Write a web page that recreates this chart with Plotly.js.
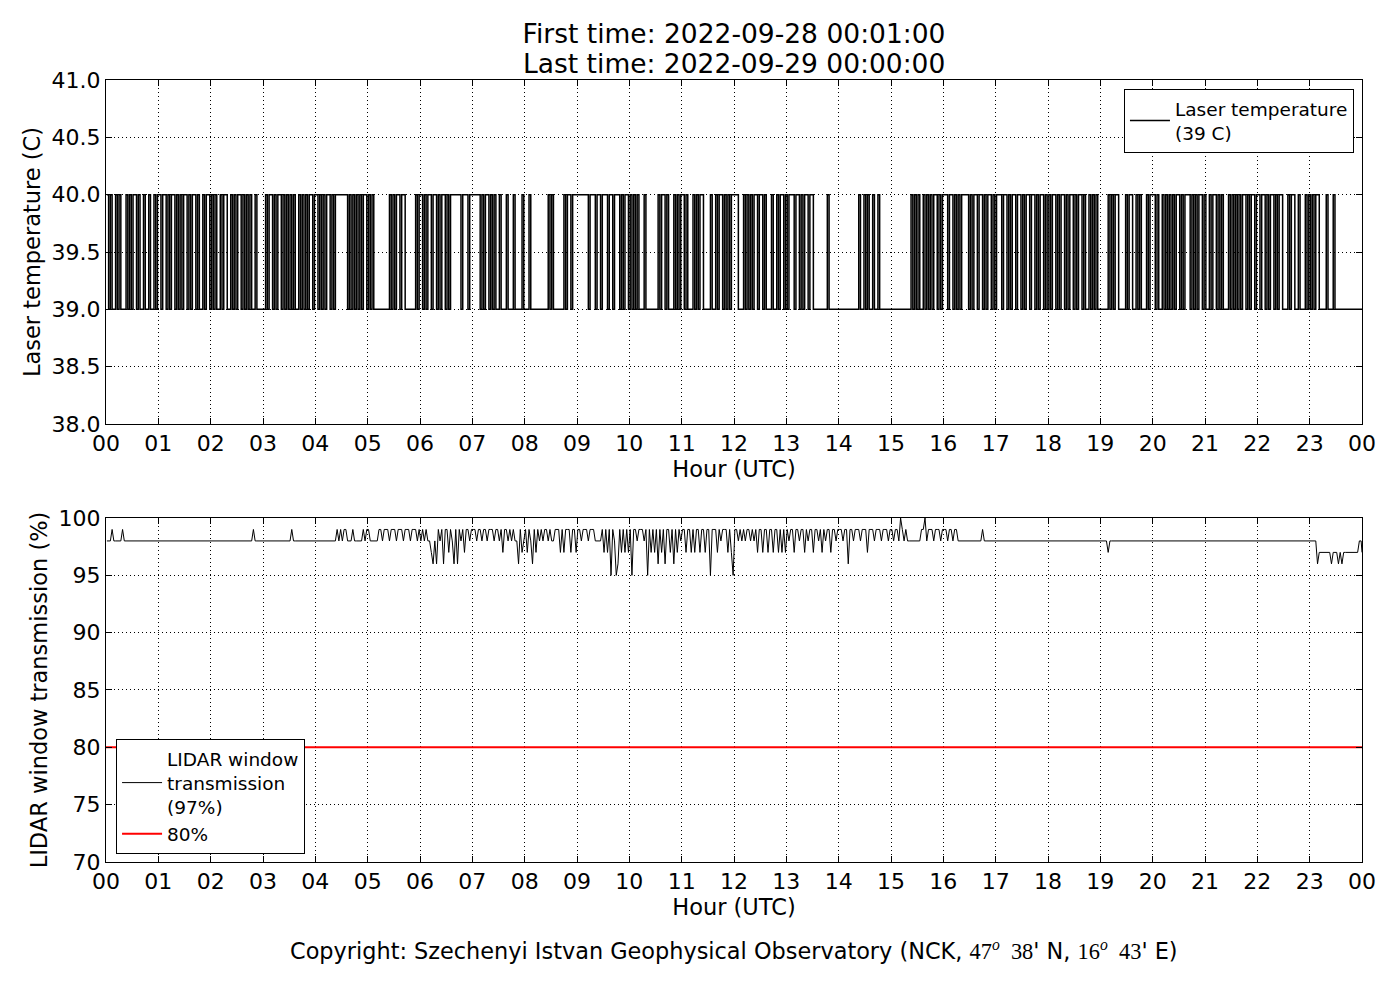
<!DOCTYPE html>
<html>
<head>
<meta charset="utf-8">
<script src="https://cdn.plot.ly/plotly-3.0.1.min.js"></script>
<style>
  body { margin: 0; background: #fff; }
  #plot { width: 1400px; height: 1000px; }
</style>
</head>
<body>
<div id="plot"></div>
<script>
// hour tick labels for both panels
const hourLabels = ['00','01','02','03','04','05','06','07','08','09','10','11',
  '12','13','14','15','16','17','18','19','20','21','22','23','00']

// laser temperature, one string per hour, one char per 2 minutes: 1 = 40 C, 0 = 39 C
const laserHours = [
  '101001010001010110100100100101',
  '101101011010101101011010010110',
  '101001011001010110101010010000',
  '010110101101010101001010101101',
  '101010110101111111010101010110',
  '101000000000101011011000000101',
  '101011011010110101111110111011',
  '111101011010100100010001000010',
  '001000000000010100000010110111',
  '111111011101101110110111010110',
  '101010001000000010110100010101',
  '101000101011000010010110101011',
  '110001010101101101000100101101',
  '011101101011011000000001000000',
  '000000000001001010010010000000',
  '000000000001010100101010110101',
  '110110101011110101101101011010',
  '111011010110110101101101011010',
  '101101011010110101101001010100',
  '000010101100001011001010001011',
  '101001010101011010111010101101',
  '001011010100010101010110101101',
  '101101011010110001011001000101',
  '010110000100010000000000000000'
]
const laserLast = 39

// LIDAR window transmission, one string per hour, one char per 2 minutes:
// digit d = 90+d %, '0' = 100 %
const lidarHours = [
  '888988888988888888888888888888',
  '888888888888888888888888888888',
  '888888888888888888888888988888',
  '888888888888888898888888888888',
  '888888888888989899888988888989',
  '988888998999899989998999899989',
  '898988768698969979869698979989',
  '998998998999899897998989886978',
  '979869798989989889997979997997',
  '998999899988889797959856979797',
  '959989998959797969796997969798',
  '997997979979979959997989997975',
  '998989899898979979979979979797',
  '989979989979899799897989979989',
  '998996998999899979998999899989',
  '989980989888888889908999899989',
  '998998998888888888888898888888',
  '888888888888888888888888888888',
  '888888888888888888888888888888',
  '888878888888888888888888888888',
  '888888888888888888888888888888',
  '888888888888888888888888888888',
  '888888888888888888888888888888',
  '888867777777677767677777777788'
]
const lidarLast = 97
const limit = 80

function decode (hours, toValue, last) {
  const x = [], y = []
  hours.forEach((s, h) => {
    const step = 1 / s.length
    for (let i = 0; i < s.length; i++) {
      x.push(h + (i + 0.5) * step)
      y.push(toValue(s[i]))
    }
  })
  x.push(24); y.push(last)
  return { x, y }
}

const laser = decode(laserHours, c => c === '1' ? 40 : 39, laserLast)
const lidar = decode(lidarHours, c => c === '0' ? 100 : 90 + Number(c), lidarLast)
const hourTicks = hourLabels.map((_, i) => i)

const data = [
  {
    x: laser.x, y: laser.y, type: 'scatter', mode: 'lines',
    line: { color: 'black', width: 1.5, shape: 'hv' },
    name: 'Laser temperature<br>(' + laserLast + ' C)',
    xaxis: 'x', yaxis: 'y', legend: 'legend'
  },
  {
    x: lidar.x, y: lidar.y, type: 'scatter', mode: 'lines',
    line: { color: 'black', width: 1 },
    name: 'LIDAR window<br>transmission<br>(' + lidarLast + '%)',
    xaxis: 'x2', yaxis: 'y2', legend: 'legend2'
  },
  {
    x: [0, 24], y: [limit, limit], type: 'scatter', mode: 'lines',
    line: { color: 'red', width: 2 },
    name: limit + '%',
    xaxis: 'x2', yaxis: 'y2', legend: 'legend2'
  }
]

const font = { family: 'DejaVu Sans, sans-serif', color: 'black' }
const gridDash = '1px,3px'

function xAxis (anchor) {
  return {
    anchor: anchor, range: [0, 24],
    tickvals: hourTicks, ticktext: hourLabels,
    ticks: 'inside', ticklen: 6, tickcolor: 'black',
    showline: true, linecolor: 'black', linewidth: 1, mirror: 'allticks',
    showgrid: true, gridcolor: 'black', griddash: gridDash, gridwidth: 1,
    zeroline: false, automargin: false,
    tickfont: { ...font, size: 22 },
    title: { text: 'Hour (UTC)', font: { ...font, size: 22.5 }, standoff: 0 }
  }
}

function yAxis (anchor, domain, range, dtick, fmt, label) {
  return {
    anchor: anchor, domain: domain, range: range, dtick: dtick, tickformat: fmt,
    ticks: 'inside', ticklen: 6, tickcolor: 'black',
    showline: true, linecolor: 'black', linewidth: 1, mirror: 'allticks',
    showgrid: true, gridcolor: 'black', griddash: gridDash, gridwidth: 1,
    zeroline: false, automargin: false,
    tickfont: { ...font, size: 22 },
    title: { text: label, font: { ...font, size: 22.5 }, standoff: 4 }
  }
}

const serif = 'font-family:Liberation Serif'
const copyright = 'Copyright: Szechenyi Istvan Geophysical Observatory (NCK, ' +
  '<span style="' + serif + '">47<sup><i>o</i></sup>  38</span>\' N, ' +
  '<span style="' + serif + '">16<sup><i>o</i></sup>  43</span>\' E)'

const layout = {
  width: 1400, height: 1000,
  margin: { l: 106, r: 38, t: 80, b: 138 },
  paper_bgcolor: 'white', plot_bgcolor: 'white',
  font: font,
  title: {
    text: 'First time: 2022-09-28 00:01:00',
    font: { ...font, size: 26.5 },
    xref: 'paper', x: 0.5, yref: 'container', y: 0.966, yanchor: 'middle'
  },
  xaxis: xAxis('y'),
  yaxis: yAxis('x', [0.5601, 1], [38, 41], 0.5, '.1f', 'Laser temperature (C)'),
  xaxis2: xAxis('y2'),
  yaxis2: yAxis('x2', [0, 0.4399], [70, 100], 5, 'd', 'LIDAR window transmission (%)'),
  showlegend: true,
  legend: {
    x: 0.9936, y: 0.9885, xanchor: 'right', yanchor: 'top',
    bordercolor: 'black', borderwidth: 1, bgcolor: 'white',
    font: { ...font, size: 18.5 }, itemwidth: 40
  },
  legend2: {
    x: 0.008, y: 0.0102, xanchor: 'left', yanchor: 'bottom',
    bordercolor: 'black', borderwidth: 1, bgcolor: 'white',
    font: { ...font, size: 18.5 }, itemwidth: 40
  },
  annotations: [
    {
      text: 'Last time: 2022-09-29 00:00:00', xref: 'paper', yref: 'paper',
      x: 0.5, y: 1.0217, xanchor: 'center', yanchor: 'middle', showarrow: false,
      font: { ...font, size: 26.5 }
    },
    {
      text: copyright, xref: 'paper', yref: 'paper', x: 0.5, y: -0.1125,
      xanchor: 'center', yanchor: 'middle', showarrow: false,
      font: { ...font, size: 22.4 }
    }
  ]
}

Plotly.newPlot('plot', data, layout, { staticPlot: true })
</script>
</body>
</html>
